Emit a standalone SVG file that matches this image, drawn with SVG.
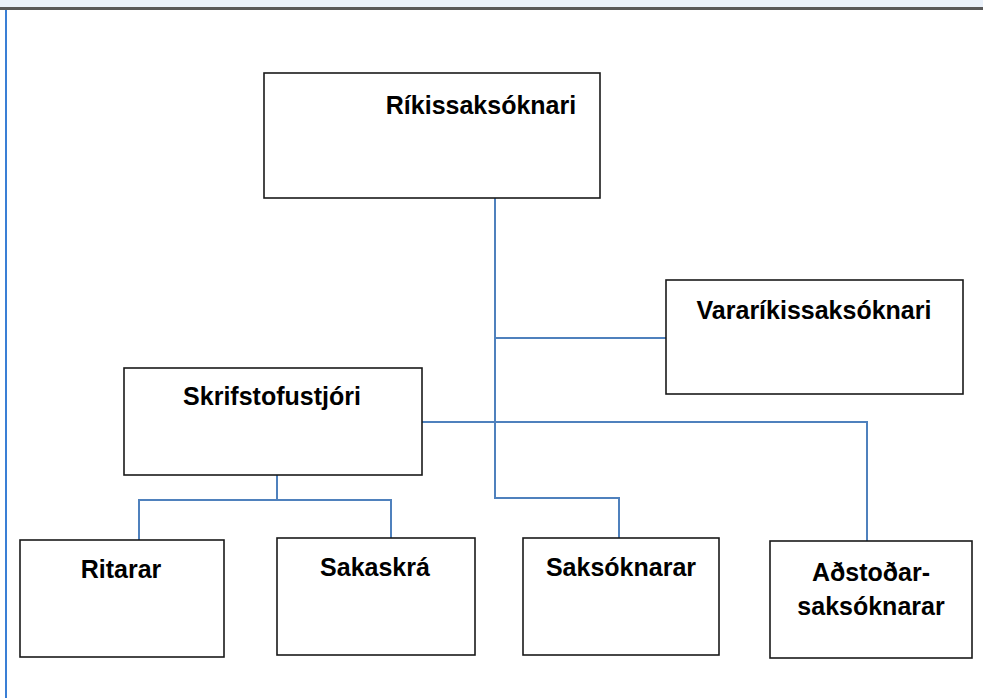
<svg xmlns="http://www.w3.org/2000/svg" width="983" height="698" viewBox="0 0 983 698">
<style>
.box{fill:#fff;stroke:#1a1a1a;stroke-width:1.6}
.lbl{font-family:"Liberation Sans",Arial,sans-serif;font-weight:bold;font-size:25px;fill:#000;text-anchor:middle}
.con{fill:none;stroke:#4f81bd;stroke-width:2}
</style>
<rect x="0" y="0" width="983" height="7" fill="#eaf1fa"/>
<rect x="0" y="7" width="983" height="3" fill="#595959"/>
<line x1="6" y1="10" x2="6" y2="698" stroke="#3a7fd5" stroke-width="2"/>
<g id="connectors">
<polyline class="con" points="495,198 495,498 619,498 619,538"/>
<line class="con" x1="495" y1="338" x2="666" y2="338"/>
<polyline class="con" points="422,422 867,422 867,541"/>
<line class="con" x1="277" y1="475" x2="277" y2="500"/>
<polyline class="con" points="139,540 139,500 391,500 391,538"/>
</g>
<g id="rikissaksoknari">
<rect class="box" x="264" y="73" width="336" height="125"/>
<text class="lbl" x="481" y="114" font-size="26.5">Ríkissaksóknari</text>
</g>
<g id="vararikissaksoknari">
<rect class="box" x="666" y="280" width="297" height="114"/>
<text class="lbl" x="814" y="319">Vararíkissaksóknari</text>
</g>
<g id="skrifstofustjori">
<rect class="box" x="124" y="368" width="298" height="107"/>
<text class="lbl" x="272" y="405">Skrifstofustjóri</text>
</g>
<g id="ritarar">
<rect class="box" x="20" y="540" width="204" height="117"/>
<text class="lbl" x="121" y="578">Ritarar</text>
</g>
<g id="sakaskra">
<rect class="box" x="277" y="538" width="198" height="117"/>
<text class="lbl" x="375" y="576">Sakaskrá</text>
</g>
<g id="saksoknarar">
<rect class="box" x="523" y="538" width="196" height="117"/>
<text class="lbl" x="621" y="576">Saksóknarar</text>
</g>
<g id="adstodarsaksoknarar">
<rect class="box" x="770" y="541" width="202" height="117"/>
<text class="lbl" x="871" y="581">Aðstoðar-</text>
<text class="lbl" x="871" y="615">saksóknarar</text>
</g>
</svg>
